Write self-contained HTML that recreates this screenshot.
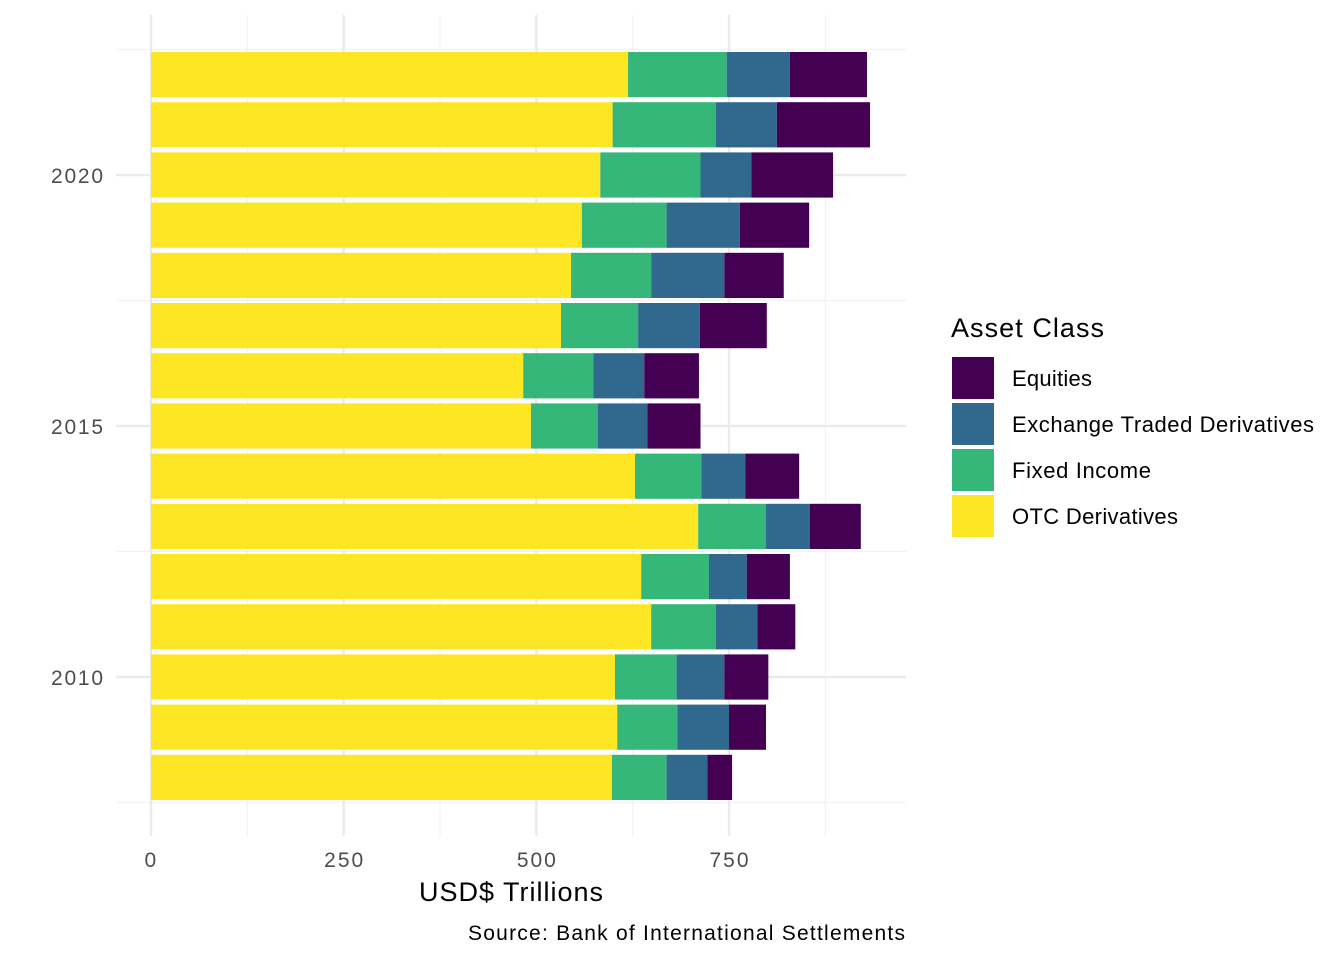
<!DOCTYPE html>
<html><head><meta charset="utf-8"><style>
body{margin:0;background:#fff;font-family:"Liberation Sans",sans-serif;}
</style></head><body>
<svg id="chart" width="1344" height="960" style="display:block">
<g id="grid"></g>
<g id="bars"></g>
<g id="axes"></g>
<text x="419" y="901" font-size="27" fill="#000" textLength="184" lengthAdjust="spacing">USD$ Trillions</text>
<text x="468" y="940" font-size="21" fill="#000" textLength="437" lengthAdjust="spacing">Source: Bank of International Settlements</text>
<g id="legend">
<text x="951" y="337" font-size="27" fill="#000" textLength="153" lengthAdjust="spacing">Asset Class</text>
</g>
</svg>
<script>
const years=[2008,2009,2010,2011,2012,2013,2014,2015,2016,2017,2018,2019,2020,2021,2022];
const otc=[598,605,602,649,636,710,628,493,483,532,545,559,583,599,619];
const fixedIncome=[71,78,80,84,88,88,86,87,91,100,104,110,130,134,128];
const etd=[53,67,62,54,49,57,57,64,66,80,95,95,66,79,82];
const equities=[32,48,57,49,56,66,70,69,71,87,77,90,106,121,100];
const seriesNames=["OTC Derivatives","Fixed Income","Exchange Traded Derivatives","Equities"];
const seriesColors=["#FDE725","#35B779","#31688E","#440154"];
const xTicks=[0,250,500,750];
const yTicks=[2010,2015,2020];
const NS="http://www.w3.org/2000/svg";
const x=v=>151+v*0.7707;
const y=yr=>677-(yr-2010)*50.2;
function mk(t,a,p){const e=document.createElementNS(NS,t);for(const k in a)e.setAttribute(k,a[k]);p.appendChild(e);return e;}
const grid=document.getElementById('grid'),bars=document.getElementById('bars'),axes=document.getElementById('axes'),legend=document.getElementById('legend');
for(let i=0;i<xTicks.length;i++){const m=xTicks[i]+125;const l=mk('line',{x1:x(m),x2:x(m),y1:15,y2:836,stroke:'#f2f2f2','stroke-width':1.2},grid);

}
for(const t of [2007.5,2012.5,2017.5,2022.5]){const l=mk('line',{x1:116,x2:906,y1:y(t),y2:y(t),stroke:'#f2f2f2','stroke-width':1.2},grid);

}
for(const t of xTicks){const l=mk('line',{x1:x(t),x2:x(t),y1:15,y2:836,stroke:'#ebebeb','stroke-width':2.4},grid);


const w=String(t).length*13;
const tx=mk('text',{x:x(t)-w/2,y:867,'font-size':21,fill:'#4d4d4d',textLength:w,lengthAdjust:'spacing'},axes);tx.textContent=t;

}
for(const t of yTicks){const l=mk('line',{x1:116,x2:906,y1:y(t),y2:y(t),stroke:'#ebebeb','stroke-width':2.4},grid);


const tx=mk('text',{x:51,y:y(t)+8,'font-size':21,fill:'#4d4d4d',textLength:52,lengthAdjust:'spacing'},axes);tx.textContent=t;

}
const data=[otc,fixedIncome,etd,equities];
years.forEach((yr,i)=>{let c=0;data.forEach((s,j)=>{const r=mk('rect',{x:x(c),y:y(yr)-22.6,width:x(c+s[i])-x(c),height:45.2,fill:seriesColors[j]},bars);


c+=s[i];});});
const order=[3,2,1,0];
const labelWidths=[80,302,139,166];
order.forEach((j,k)=>{const r=mk('rect',{x:952,y:357+k*46,width:42,height:42,fill:seriesColors[j]},legend);


const t=mk('text',{x:1012,y:386+k*46,'font-size':22,fill:'#000',textLength:labelWidths[k],lengthAdjust:'spacing'},legend);t.textContent=seriesNames[j];

});
</script>
</body></html>
